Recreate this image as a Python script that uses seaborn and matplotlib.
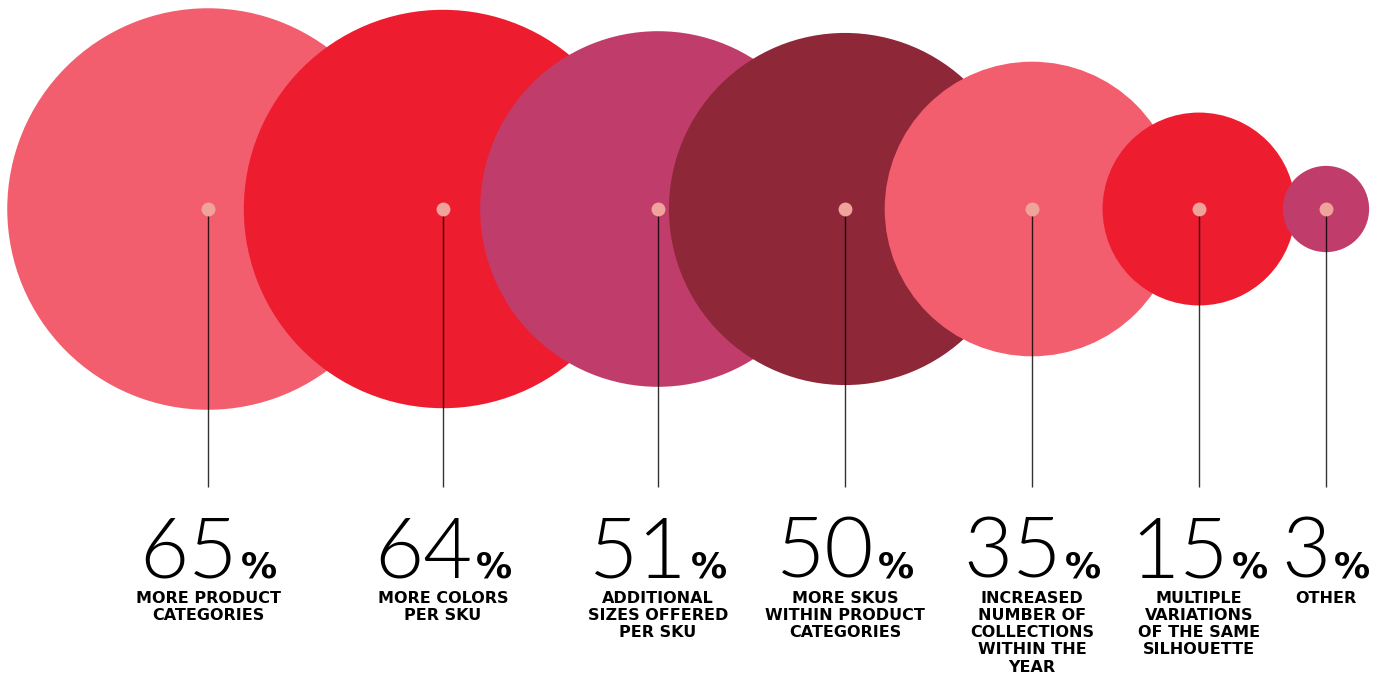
import matplotlib
matplotlib.use("Agg")
import matplotlib.pyplot as plt
import seaborn as sns
import pandas as pd

# Survey results: share of respondents per assortment change
categories = [
    "MORE PRODUCT\nCATEGORIES",
    "MORE COLORS\nPER SKU",
    "ADDITIONAL\nSIZES OFFERED\nPER SKU",
    "MORE SKUS\nWITHIN PRODUCT\nCATEGORIES",
    "INCREASED\nNUMBER OF\nCOLLECTIONS\nWITHIN THE\nYEAR",
    "MULTIPLE\nVARIATIONS\nOF THE SAME\nSILHOUETTE",
    "OTHER",
]
values = [65, 64, 51, 50, 35, 15, 3]

# Layout: column centres on a 1384 x 677 pixel canvas
W, H, DPI = 1384, 677, 100
slot_x = [208, 443, 658, 845, 1032, 1199, 1326]
center_y = 209
stem_bottom = 487
number_baseline = 578
label_top = 591

palette = ["#F25E6E", "#ED1C2E", "#C03D6B", "#8E2738", "#F25E6E", "#ED1C2E", "#C03D6B"]
dot_color = "#F0A39B"

df = pd.DataFrame({"label": categories, "value": values, "x": slot_x, "y": [center_y] * len(values)})

sns.set_theme(style="white")
fig = plt.figure(figsize=(W / DPI, H / DPI), dpi=DPI)
ax = fig.add_axes([0, 0, 1, 1])
ax.set_xlim(0, W)
ax.set_ylim(H, 0)
ax.axis("off")

# Bubble area proportional to the value (marker area in pt^2)
px_per_sqrt = 24.9
pt_per_px = 72 / DPI
k = (2 * px_per_sqrt * pt_per_px) ** 2
sns.scatterplot(
    data=df, x="x", y="y", hue="label", palette=palette,
    size="value", sizes=(k * min(values), k * max(values)), size_norm=(min(values), max(values)),
    linewidth=0, legend=False, ax=ax, zorder=1,
)

# Stems and centre dots
ax.vlines(df["x"], center_y, stem_bottom, color="black", linewidth=1.0, alpha=0.8, zorder=2)
sns.scatterplot(data=df, x="x", y="y", color=dot_color, s=100, linewidth=0, legend=False, ax=ax, zorder=3)

fig.canvas.draw()
renderer = fig.canvas.get_renderer()

for xc, val, lab in zip(slot_x, values, categories):
    num = ax.text(0, number_baseline, f"{val}", fontsize=61, family="Lato", fontweight=300,
                  color="black", ha="left", va="baseline")
    pct = ax.text(0, number_baseline, "%", fontsize=26, family="DejaVu Sans", fontweight="bold",
                  color="black", ha="left", va="baseline")
    bn = num.get_window_extent(renderer)
    bp = pct.get_window_extent(renderer)
    gap = 3
    total = bn.width + gap + bp.width
    left = xc - total / 2
    num.set_x(left)
    pct.set_x(left + bn.width + gap)
    ax.text(xc, label_top, lab, fontsize=11.5, family="DejaVu Sans", fontweight="bold",
            color="black", ha="center", va="top", multialignment="center", linespacing=1.18)

fig.savefig("out.png", dpi=DPI, facecolor="white")
